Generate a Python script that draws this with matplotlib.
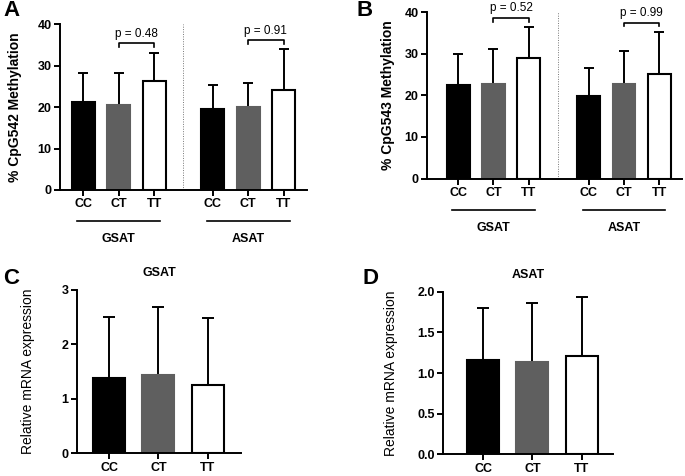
import matplotlib
matplotlib.use('Agg')
import matplotlib.pyplot as plt
import numpy as np

plt.rcParams['font.family'] = ['Liberation Sans', 'DejaVu Sans']
plt.rcParams['font.weight'] = 'bold'

genotypes = ['CC', 'CT', 'TT']
tissues = ['GSAT', 'ASAT']

# Panel A: % CpG542 methylation (mean, top of SD bar), GSAT then ASAT
cpg542_mean = [21.2, 20.5, 26.2, 19.6, 20.1, 24.1]
cpg542_top = [28.3, 28.3, 33.0, 25.4, 25.9, 34.0]
cpg542_p = ['p = 0.48', 'p = 0.91']

# Panel B: % CpG543 methylation
cpg543_mean = [22.6, 22.7, 28.9, 19.9, 22.7, 25.1]
cpg543_top = [30.0, 31.3, 36.4, 26.6, 30.8, 35.2]
cpg543_p = ['p = 0.52', 'p = 0.99']

# Panel C / D: relative mRNA expression
gsat_mean = [1.38, 1.44, 1.26]
gsat_top = [2.51, 2.68, 2.49]
asat_mean = [1.16, 1.13, 1.21]
asat_top = [1.80, 1.86, 1.93]

fills = ['black', '#5f5f5f', 'white']
edges = ['black', '#5f5f5f', 'black']


def style_axes(ax):
    for s in ['top', 'right']:
        ax.spines[s].set_visible(False)
    for s in ['left', 'bottom']:
        ax.spines[s].set_linewidth(1.4)
    ax.tick_params(width=1.4, length=4, pad=2, labelsize=9)
    for lbl in ax.get_xticklabels() + ax.get_yticklabels():
        lbl.set_fontweight('bold')


def draw_bars(ax, x, mean, top, capsize):
    mean = np.array(mean)
    top = np.array(top)
    n = len(mean)
    cols = (fills * 2)[:n]
    ecs = (edges * 2)[:n]
    ax.bar(x, mean, width=0.65, color=cols, edgecolor=ecs, linewidth=1.5,
           yerr=[np.zeros(n), top - mean], zorder=2,
           error_kw=dict(ecolor='black', elinewidth=1.4, capsize=capsize,
                         capthick=1.4, zorder=1))


def methylation_panel(ax, x, mean, top, pvals, brackets, ylabel, sep):
    draw_bars(ax, x, mean, top, 3.5)
    ax.set_ylim(0, 40)
    ax.set_yticks([0, 10, 20, 30, 40])
    ax.set_xticks(x)
    ax.set_xticklabels(genotypes * 2)
    ax.set_ylabel(ylabel, fontsize=10, fontweight='bold')
    ax.axvline(sep, color='#777777', lw=0.7, ls=(0, (1, 1.5)), zorder=0)
    for g in range(2):
        x1, x2 = x[3 * g + 1], x[3 * g + 2]
        yb, yt = brackets[g]
        ax.plot([x1, x1, x2, x2], [yb, yt, yt, yb], color='black', lw=1.2,
                clip_on=False)
        ax.text((x1 + x2) / 2, yt + 0.9, pvals[g], ha='center', va='bottom',
                fontsize=8.5, fontweight='normal', clip_on=False)
        c = x[3 * g + 1]
        ax.plot([c - 1.17, c + 1.17], [-0.19, -0.19], color='black', lw=1.2,
                transform=ax.get_xaxis_transform(), clip_on=False)
        ax.text(c, -0.295, tissues[g], ha='center', va='center', fontsize=9,
                fontweight='bold', transform=ax.get_xaxis_transform())
    style_axes(ax)


fig = plt.figure(figsize=(6.85, 4.76), dpi=100)

# A
axA = fig.add_axes([0.0876, 0.601, 0.3604, 0.348])
xA = [0, 1, 2, 3.65, 4.65, 5.65]
methylation_panel(axA, xA, cpg542_mean, cpg542_top, cpg542_p,
                  [(34.6, 35.4), (35.3, 36.1)], '% CpG542 Methylation', 2.80)
axA.set_xlim(-0.66, 6.31)
axA.yaxis.set_label_coords(-0.154, 0.5)

# B
axB = fig.add_axes([0.623, 0.625, 0.373, 0.349])
xB = [0, 1, 2, 3.7, 4.7, 5.7]
methylation_panel(axB, xB, cpg543_mean, cpg543_top, cpg543_p,
                  [(37.8, 38.6), (36.7, 37.5)], '% CpG543 Methylation', 2.83)
axB.set_xlim(-0.89, 6.35)
axB.yaxis.set_label_coords(-0.124, 0.5)

# C
axC = fig.add_axes([0.112, 0.0477, 0.240, 0.3433])
xC = [0, 1, 2]
draw_bars(axC, xC, gsat_mean, gsat_top, 4)
axC.set_ylim(0, 3)
axC.set_yticks([0, 1, 2, 3])
axC.set_xlim(-0.66, 2.68)
axC.set_xticks(xC)
axC.set_xticklabels(genotypes)
axC.set_ylabel('Relative mRNA expression', fontsize=10, fontweight='normal')
axC.yaxis.set_label_coords(-0.256, 0.5)
axC.set_title('GSAT', fontsize=9, fontweight='bold', pad=10)
style_axes(axC)

# D
axD = fig.add_axes([0.647, 0.0456, 0.248, 0.3414])
xD = [0, 1, 2]
draw_bars(axD, xD, asat_mean, asat_top, 4)
axD.set_ylim(0, 2)
axD.set_yticks([0, 0.5, 1.0, 1.5, 2.0])
axD.set_yticklabels(['0.0', '0.5', '1.0', '1.5', '2.0'])
axD.set_xlim(-0.81, 2.64)
axD.set_xticks(xD)
axD.set_xticklabels(genotypes)
axD.set_ylabel('Relative mRNA expression', fontsize=10, fontweight='normal')
axD.yaxis.set_label_coords(-0.265, 0.5)
axD.set_title('ASAT', fontsize=9, fontweight='bold', pad=10)
style_axes(axD)

# panel letters
for letter, (px, py) in zip('ABCD', [(3, 10), (357, 10), (3, 278), (362, 278)]):
    fig.text(px / 685, 1 - py / 476, letter, fontsize=16, fontweight='bold',
             ha='left', va='center')

fig.savefig('out.png', dpi=100)
